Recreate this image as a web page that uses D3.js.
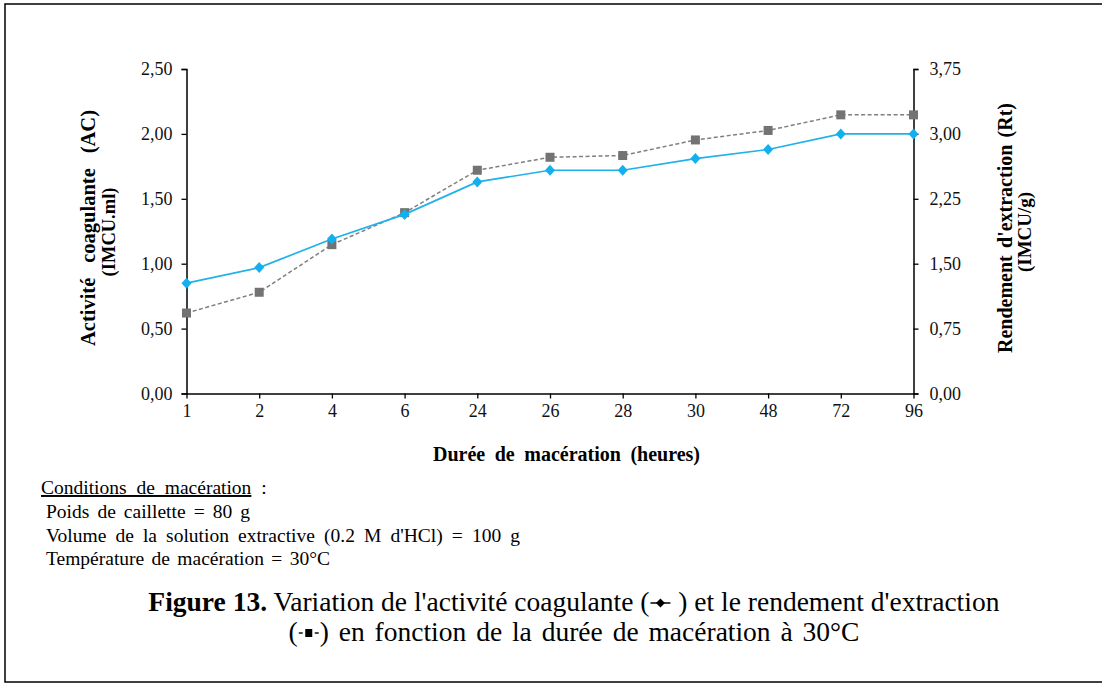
<!DOCTYPE html>
<html>
<head>
<meta charset="utf-8">
<script src="https://cdn.jsdelivr.net/npm/d3@7"></script>
<style>
  html, body { margin: 0; padding: 0; background: #fff; }
  svg { display: block; font-family: "Liberation Serif", "Times New Roman", serif; }
</style>
</head>
<body>
<svg id="chart" width="1102" height="684"></svg>
<script>
// Maceration time (hours), shown as evenly spaced categories
const hours = ["1", "2", "4", "6", "24", "26", "28", "30", "48", "72", "96"];
// Coagulating activity AC (IMCU.ml), left axis
const activite = [0.85, 0.97, 1.19, 1.38, 1.63, 1.72, 1.72, 1.81, 1.88, 2.00, 2.00];
// Extraction yield Rt (IMCU/g), right axis
const rendement = [0.93, 1.17, 1.72, 2.09, 2.58, 2.73, 2.75, 2.93, 3.04, 3.22, 3.22];
// Tick values of both vertical axes
const ticksLeft = [0, 0.5, 1.0, 1.5, 2.0, 2.5];
const ticksRight = [0, 0.75, 1.5, 2.25, 3.0, 3.75];

const conditions = [
  { t: "Poids de caillette = 80 g", w: 204 },
  { t: "Volume de la solution extractive (0.2 M d'HCl) = 100 g", w: 474 },
  { t: "Température de macération = 30°C", w: 284 }
];

const svg = d3.select("#chart");
const fmt = d => d3.format(".2f")(d).replace(".", ",");

// widen the gaps between words so a line fills the given length
function fitWords(sel, target) {
  const node = sel.node();
  const spaces = (node.textContent.match(/ /g) || []).length;
  if (!spaces) return sel;
  const w = node.getComputedTextLength();
  sel.style("word-spacing", Math.max(0, (target - w) / spaces) + "px");
  return sel;
}

// outer frame
svg.append("rect").attr("x", 5).attr("y", 4).attr("width", 1110).attr("height", 678)
  .attr("fill", "none").attr("stroke", "#000").attr("stroke-width", 1.5);

const plotLeft = 186.5, plotRight = 913.5, plotTop = 69, plotBottom = 393.5;

const x = d3.scalePoint().domain(hours).range([plotLeft, plotRight]);
const yL = d3.scaleLinear().domain([0, 2.5]).range([plotBottom, plotTop]);
const yR = d3.scaleLinear().domain([0, 3.75]).range([plotBottom, plotTop]);

function styleAxis(g) {
  g.selectAll("path.domain").attr("stroke", "#000").attr("stroke-width", 1.5);
  g.selectAll(".tick line").attr("stroke", "#000").attr("stroke-width", 1.3);
  g.selectAll(".tick text").attr("fill", "#111").attr("font-size", 18)
    .attr("font-family", "Liberation Serif");
}

svg.append("g").attr("transform", `translate(${plotLeft},0)`)
  .call(d3.axisLeft(yL).tickValues(ticksLeft).tickFormat(fmt).tickSize(5).tickSizeOuter(5).tickPadding(9))
  .call(styleAxis);

svg.append("g").attr("transform", `translate(${plotRight},0)`)
  .call(d3.axisRight(yR).tickValues(ticksRight).tickFormat(fmt).tickSize(5).tickSizeOuter(5).tickPadding(11))
  .call(styleAxis);

svg.append("g").attr("transform", `translate(0,${plotBottom})`)
  .call(d3.axisBottom(x).tickSize(5).tickSizeOuter(0).tickPadding(6))
  .call(styleAxis);

// extraction yield: grey dashed line with square markers
svg.append("path").datum(rendement)
  .attr("fill", "none").attr("stroke", "#7f7f7f").attr("stroke-width", 1.5)
  .attr("stroke-dasharray", "4,2.5")
  .attr("d", d3.line().x((d, i) => x(hours[i])).y(d => yR(d)));
svg.append("g").selectAll("rect").data(rendement).join("rect")
  .attr("x", (d, i) => x(hours[i]) - 4.5).attr("y", d => yR(d) - 4.5)
  .attr("width", 9).attr("height", 9).attr("fill", "#737373");

// coagulating activity: blue line with diamond markers
svg.append("path").datum(activite)
  .attr("fill", "none").attr("stroke", "#1fb1ea").attr("stroke-width", 1.7)
  .attr("d", d3.line().x((d, i) => x(hours[i])).y(d => yL(d)));
svg.append("g").selectAll("path").data(activite).join("path")
  .attr("transform", (d, i) => `translate(${x(hours[i])},${yL(d)})`)
  .attr("d", "M0,-5.5L5,0L0,5.5L-5,0Z").attr("fill", "#12b0ee");

// axis titles
svg.append("text").attr("x", 566.5).attr("y", 461)
  .attr("text-anchor", "middle").attr("font-weight", "bold").attr("font-size", 20)
  .text("Durée de macération (heures)")
  .call(fitWords, 267);

const yTitleL = svg.append("g").attr("transform", "translate(0,228) rotate(-90)");
yTitleL.append("text").attr("x", 0).attr("y", 95).attr("text-anchor", "middle")
  .attr("font-weight", "bold").attr("font-size", 20.5)
  .text("Activité coagulante (AC)")
  .call(fitWords, 236);
yTitleL.append("text").attr("x", -4).attr("y", 115).attr("text-anchor", "middle")
  .attr("font-weight", "bold").attr("font-size", 18.5).text("(IMCU.ml)");

const yTitleR = svg.append("g").attr("transform", "translate(0,228) rotate(-90)");
yTitleR.append("text").attr("x", 0).attr("y", 1012).attr("text-anchor", "middle")
  .attr("font-weight", "bold").attr("font-size", 20)
  .text("Rendement d'extraction (Rt)")
  .call(fitWords, 250);
yTitleR.append("text").attr("x", -4).attr("y", 1031).attr("text-anchor", "middle")
  .attr("font-weight", "bold").attr("font-size", 19).text("(IMCU/g)");

// maceration conditions
const cond = svg.append("text").attr("x", 41).attr("y", 494).attr("font-size", 19.5)
  .style("white-space", "pre");
cond.append("tspan").attr("text-decoration", "underline").style("word-spacing", "5px")
  .text("Conditions de macération");
cond.append("tspan").text("  :");
conditions.forEach((c, i) => {
  svg.append("text").attr("x", 46).attr("y", 518 + i * 23.5).attr("font-size", 19.5)
    .text(c.t).call(fitWords, c.w);
});

// caption with inline legend symbols
function captionLine(y, wordSpacing, parts) {
  const g = svg.append("g");
  let cx = 0;
  parts.forEach(p => {
    if (p.sym) {
      p.sym(g, cx, y);
      cx += p.w;
    } else {
      const t = g.append("text").attr("x", cx).attr("y", y).attr("font-size", 27.5)
        .attr("font-weight", p.bold ? "bold" : "normal")
        .style("white-space", "pre").style("word-spacing", wordSpacing + "px").text(p.t);
      cx += t.node().getBBox().width;
    }
  });
  g.attr("transform", `translate(${574 - cx / 2},0)`);
}

const symDiamond = (g, x0, y) => {
  const cy = y - 8;
  g.append("line").attr("x1", x0 + 1).attr("x2", x0 + 21).attr("y1", cy).attr("y2", cy)
    .attr("stroke", "#000").attr("stroke-width", 1.5);
  g.append("path").attr("transform", `translate(${x0 + 11},${cy})`)
    .attr("d", "M0,-4.5L4.5,0L0,4.5L-4.5,0Z").attr("fill", "#000");
};
const symSquare = (g, x0, y) => {
  const cy = y - 8;
  g.append("line").attr("x1", x0 + 1).attr("x2", x0 + 5).attr("y1", cy).attr("y2", cy)
    .attr("stroke", "#000").attr("stroke-width", 1.4);
  g.append("line").attr("x1", x0 + 17).attr("x2", x0 + 21).attr("y1", cy).attr("y2", cy)
    .attr("stroke", "#000").attr("stroke-width", 1.4);
  g.append("rect").attr("x", x0 + 7.5).attr("y", cy - 4).attr("width", 7).attr("height", 8)
    .attr("fill", "#000");
};

captionLine(611, 0, [
  { t: "Figure 13.", bold: true },
  { t: " Variation de l'activité coagulante (" },
  { sym: symDiamond, w: 22 },
  { t: " ) et le rendement d'extraction" }
]);
captionLine(641, 3, [
  { t: "(" },
  { sym: symSquare, w: 22 },
  { t: ") en fonction de la durée de macération à 30°C" }
]);
</script>
</body>
</html>
